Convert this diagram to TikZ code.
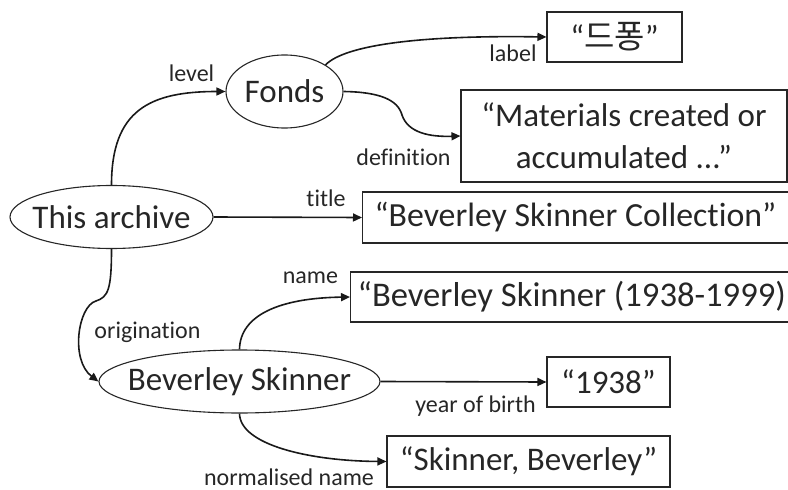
\documentclass[tikz,border=0pt]{standalone}
\usepackage{fontspec}
\setmainfont{Carlito}[RawFeature={-liga;-clig;-dlig;-calt}]
\newfontfamily\krfont{Noto Sans CJK KR}
\usetikzlibrary{shapes.geometric,arrows.meta}
\begin{document}
\begin{tikzpicture}[x=1pt,y=-1pt,
  ell/.style={ellipse,draw=black!85,line width=1.1pt,inner sep=0pt},
  box/.style={rectangle,draw=black!85,line width=1.1pt,inner sep=0pt,text=black!85,font=\fontsize{33}{42}\selectfont},
  main/.style={font=\fontsize{33}{40}\selectfont,inner sep=0pt,text=black!85},
  lbl/.style={font=\fontsize{24}{28}\selectfont,inner sep=0pt,text=black!85},
  arr/.style={line width=1.6pt,draw=black!90,-{Triangle[length=9pt,width=8pt]}}
]
\useasboundingbox (0,0) rectangle (788,490);
\clip (0,0) rectangle (788,490);

% ellipses
\node[ell,minimum width=203pt,minimum height=63pt] (ta) at (111.5,217) {};
\node[main] (tat) at (ta.center) {This archive};
\node[ell,minimum width=117pt,minimum height=73pt] (fo) at (284.5,91.5) {};
\node[main] (fot) at (fo.center) {Fonds};
\node[ell,minimum width=281pt,minimum height=63pt] (bs) at (239.5,381.5) {};
\node[main] (bst) at (bs.center) {Beverley Skinner};

% boxes
\node[box,minimum width=135pt,minimum height=50pt] (kr) at (614.5,37) {“{\krfont 드퐁}”};
\node[box,minimum width=326pt,minimum height=92pt,align=center] (df) at (624,136) {“Materials created or\\accumulated ...”};
\node[box,anchor=west,minimum height=51pt,inner xsep=12pt,font=\fontsize{33.8}{40}\selectfont] (ti) at (362,217.5) {“Beverley Skinner Collection”\hspace*{25pt}};
\node[box,anchor=west,minimum height=50pt,inner xsep=7pt,font=\fontsize{34.6}{40}\selectfont] (nm) at (350,297) {“Beverley Skinner (1938-1999)\hspace*{30pt}};
\node[box,minimum width=123pt,minimum height=50pt] (yb) at (608.5,382) {“1938”};
\node[box,minimum width=283pt,minimum height=51pt] (nn) at (528.5,461.5) {“Skinner, Beverley”};

% connectors
\draw[arr] (ta.north) .. controls (111.5,110) and (150,91.5) .. (fo.west);
\draw[arr] (fo.33) .. controls (345,45) and (420,35) .. (kr.west);
\draw[arr] (fo.east) .. controls (380,92) and (398,100) .. (402,115) .. controls (408,133) and (430,137) .. (df.west);
\draw[arr] (ta.east) -- (ti.west);
\draw[arr] (ta.south) .. controls (111.5,290) and (108,297) .. (96,301) .. controls (78,306) and (70,360) .. (bs.west);
\draw[arr] (bs.north) .. controls (240,315) and (280,298) .. (nm.west);
\draw[arr] (bs.east) -- (yb.west);
\draw[arr] (bs.south) .. controls (240,445) and (310,461) .. (nn.west);

% labels
\node[lbl] (l1) at (191.5,73.5) {level};
\node[lbl] (l2) at (513,53) {label};
\node[lbl] (l3) at (403.5,157) {definition};
\node[lbl] (l4) at (326,198.5) {title};
\node[lbl] (l5) at (147.5,332) {origination};
\node[lbl] (l6) at (310.5,277.5) {name};
\node[lbl] (l7) at (475.5,406) {year of birth};
\node[lbl] (l8) at (289,477) {normalised name};
\end{tikzpicture}
\end{document}
